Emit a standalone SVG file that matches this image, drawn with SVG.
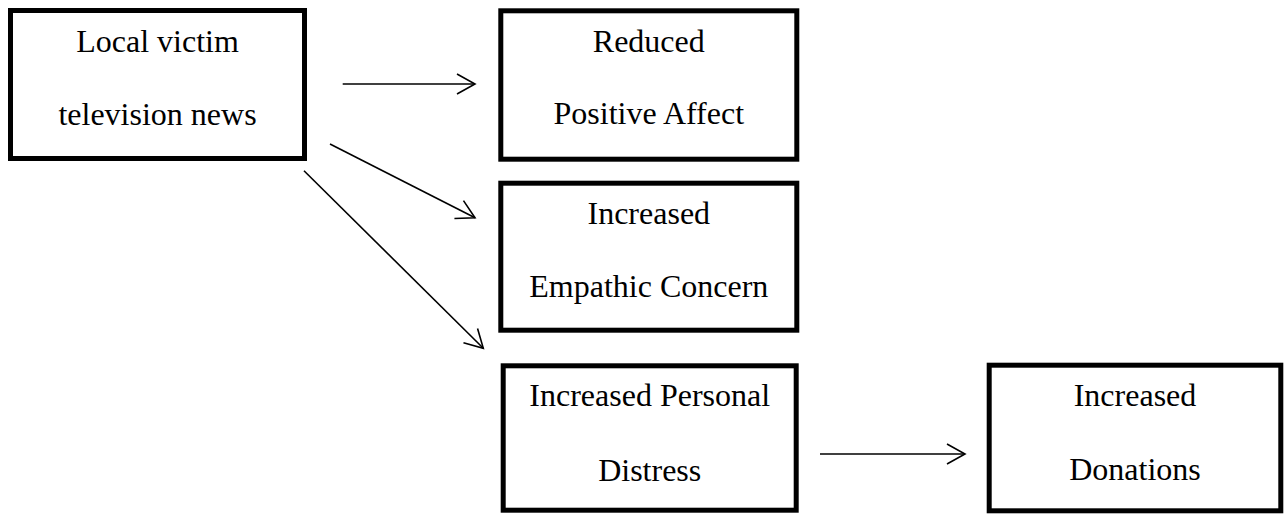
<svg xmlns="http://www.w3.org/2000/svg" width="1288" height="514" viewBox="0 0 1288 514">
  <style>
    .box { fill: #ffffff; stroke: #000000; stroke-width: 5; }
    .lbl { font-family: "Liberation Serif", "Times New Roman", serif; font-size: 32px; fill: #000000; text-anchor: middle; }
    .conn { stroke: #000000; stroke-width: 1.6; fill: none; marker-end: url(#arr); }
  </style>
  <defs>
    <marker id="arr" markerUnits="userSpaceOnUse" viewBox="-22 -13 24 26" markerWidth="24" markerHeight="26" refX="0" refY="0" orient="auto" overflow="visible">
      <path d="M-18,-10 L0,0 L-18,10" fill="none" stroke="#000000" stroke-width="1.6"/>
    </marker>
  </defs>
  <rect width="1288" height="514" fill="#ffffff"/>

  <g id="node-local-news">
    <rect class="box" x="10.5" y="10.5" width="294" height="148"/>
    <text class="lbl" x="157.5" y="51.5">Local victim</text>
    <text class="lbl" x="157.5" y="125">television news</text>
  </g>

  <g id="node-positive-affect">
    <rect class="box" x="500.8" y="10.8" width="296" height="148.4"/>
    <text class="lbl" x="648.8" y="51.5">Reduced</text>
    <text class="lbl" x="648.8" y="124">Positive Affect</text>
  </g>

  <g id="node-empathic-concern">
    <rect class="box" x="500.8" y="183.2" width="296" height="147"/>
    <text class="lbl" x="648.8" y="224">Increased</text>
    <text class="lbl" x="648.8" y="296.7">Empathic Concern</text>
  </g>

  <g id="node-personal-distress">
    <rect class="box" x="503.2" y="365.8" width="293" height="144.4"/>
    <text class="lbl" x="649.7" y="406">Increased Personal</text>
    <text class="lbl" x="649.7" y="480.5">Distress</text>
  </g>

  <g id="node-donations">
    <rect class="box" x="989.2" y="365.2" width="291.6" height="145.6"/>
    <text class="lbl" x="1135" y="406">Increased</text>
    <text class="lbl" x="1135" y="480">Donations</text>
  </g>

  <g id="connectors">
    <line class="conn" x1="342.7" y1="84" x2="475" y2="84"/>
    <line class="conn" x1="330" y1="144" x2="475" y2="217.7"/>
    <line class="conn" x1="304" y1="170.7" x2="483.3" y2="348.3"/>
    <line class="conn" x1="820" y1="454" x2="965" y2="454"/>
  </g>
</svg>
